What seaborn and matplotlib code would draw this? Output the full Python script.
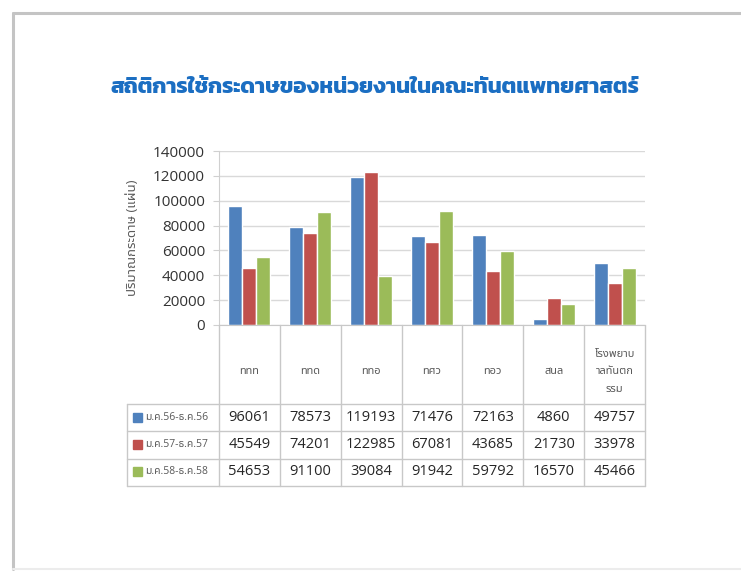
import matplotlib
matplotlib.use("Agg")
import matplotlib.pyplot as plt
from matplotlib.patches import Rectangle
from matplotlib.lines import Line2D
import pandas as pd
import seaborn as sns

# data
units = ['ททท', 'ททด', 'ททอ', 'ทศว', 'ทอว', 'สนล', 'โรงพยาบาลทันตกรรม']
unit_labels = ['ททท', 'ททด', 'ททอ', 'ทศว', 'ทอว', 'สนล', 'โรงพยาบ\nาลทันตก\nรรม']
periods = ['ม.ค.56-ธ.ค.56', 'ม.ค.57-ธ.ค.57', 'ม.ค.58-ธ.ค.58']
y56 = [96061, 78573, 119193, 71476, 72163, 4860, 49757]
y57 = [45549, 74201, 122985, 67081, 43685, 21730, 33978]
y58 = [54653, 91100, 39084, 91942, 59792, 16570, 45466]
colors = ['#4F81BD', '#C0504D', '#9BBB59']

title = 'สถิติการใช้กระดาษของหน่วยงานในคณะทันตแพทยศาสตร์'
ylabel = 'ปริมาณกระดาษ (แผ่น)'

sns.set_style('white')
plt.rcParams['font.family'] = ['Open Sans', 'Noto Sans Thai']

rows = []
for p, vals in zip(periods, [y56, y57, y58]):
    for u, v in zip(units, vals):
        rows.append({'unit': u, 'period': p, 'sheets': v})
df = pd.DataFrame(rows)

W, H = 741, 571
fig = plt.figure(figsize=(W / 100, H / 100), dpi=100)

def fx(px):
    return px / W

def fy(px):
    return 1 - px / H

# slide border (page edge)
fig.add_artist(Line2D([fx(13), fx(13)], [fy(13), fy(569)], color='#c4c4c4', lw=2.2))
fig.add_artist(Line2D([fx(13), fx(741)], [fy(13), fy(13)], color='#c4c4c4', lw=2.2))
fig.add_artist(Line2D([fx(13), fx(741)], [fy(569), fy(569)], color='#ececec', lw=1.5))

fig.text(fx(375), fy(88), title, ha='center', va='center', fontsize=16,
         fontweight='bold', color='#1B6EC2', family=['Kanit', 'Noto Sans Thai'])

# main chart area
ax = fig.add_axes([fx(219), fy(325), (645 - 219) / W, (325 - 151) / H])
sns.barplot(data=df, x='unit', y='sheets', hue='period', palette=colors,
            width=0.69, gap=0, saturation=1, legend=False, ax=ax)
ax.set_xlim(-0.5, len(units) - 0.5)
ax.set_ylim(0, 140000)
ax.set_yticks(range(0, 140001, 20000))
ax.set_yticklabels([str(t) for t in range(0, 140001, 20000)], fontsize=11, color='#333333')
ax.set_xticks([])
ax.set_xlabel('')
ax.set_ylabel(ylabel, fontsize=9.5, color='#595959', labelpad=10)
ax.yaxis.grid(True, color='#d9d9d9', lw=1)
ax.set_axisbelow(True)
for s in ['top', 'right']:
    ax.spines[s].set_visible(False)
ax.spines['left'].set_color('#d0d0d0')
ax.spines['bottom'].set_color('#c8c8c8')
ax.tick_params(axis='y', length=4, color='#d0d0d0', pad=6, left=True)

# data table under the chart, x shares the category scale, y in pixels
tx = fig.add_axes([fx(219), fy(486), (645 - 219) / W, (486 - 325) / H])
tx.set_xlim(-0.5, len(units) - 0.5)
tx.set_ylim(486, 325)
tx.axis('off')
cw = (645 - 219) / len(units)

def dx(px):
    return -0.5 + (px - 219) / cw

grid_c = '#c8c8c8'
left = dx(127)
row_lines = [404, 431, 459, 486]
for i in range(len(units) + 1):
    tx.plot([i - 0.5, i - 0.5], [325, 486], color=grid_c, lw=1, clip_on=False)
tx.plot([left, left], [404, 486], color=grid_c, lw=1, clip_on=False)
for yl in row_lines:
    tx.plot([left, len(units) - 0.5], [yl, yl], color=grid_c, lw=1, clip_on=False)

for i, lab in enumerate(unit_labels):
    tx.text(i, 372, lab, ha='center', va='center', fontsize=8,
            color='#595959', linespacing=1.8)

row_mid = [418, 445, 472]
for r, (p, vals, c) in enumerate(zip(periods, [y56, y57, y58], colors)):
    ym = row_mid[r]
    tx.add_patch(Rectangle((dx(133), ym - 4.5), 9 / cw, 9, color=c, clip_on=False))
    tx.text(dx(145), ym, p, ha='left', va='center', fontsize=7.5, color='#595959')
    for i, v in enumerate(vals):
        tx.text(i, ym, str(v), ha='center', va='center', fontsize=10.5, color='#262626')

fig.savefig('out.png', dpi=100, facecolor='white')
